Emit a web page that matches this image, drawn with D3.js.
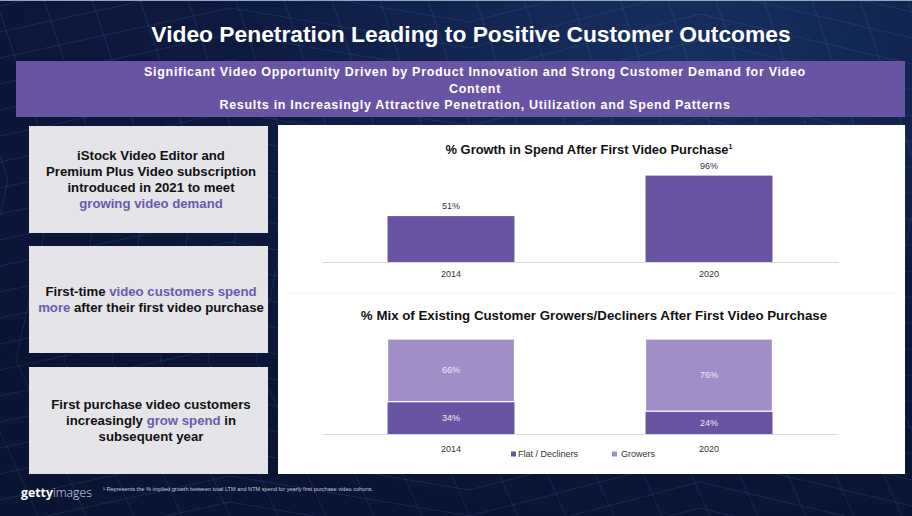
<!DOCTYPE html>
<html><head><meta charset="utf-8">
<script src="https://cdn.jsdelivr.net/npm/d3@7/dist/d3.min.js"></script>
<style>
html,body{margin:0;padding:0;background:#0c1839;}
svg{display:block;font-family:"Liberation Sans",Arial,sans-serif;}
</style></head><body>
<svg id="c" width="912" height="516"></svg>
<script>
// ---- data ----
const years = ["2014", "2020"];
const spendGrowth = [51, 96];
const flatDecliners = [34, 24];
const growers = [66, 76];
const seriesNames = ["Flat / Decliners", "Growers"];
const title = "Video Penetration Leading to Positive Customer Outcomes";
const bannerLines = ["Significant Video Opportunity Driven by Product Innovation and Strong Customer Demand for Video", "Content", "Results in Increasingly Attractive Penetration, Utilization and Spend Patterns"];
const chart1Title = "% Growth in Spend After First Video Purchase";
const chart2Title = "% Mix of Existing Customer Growers/Decliners After First Video Purchase";
const footnote = "Represents the % implied growth between total LTM and NTM spend for yearly first purchase video cohorts.";
// left boxes: lines made of [text, highlighted?] pieces
const boxes = [
  [[["iStock Video Editor and",0]],[["Premium Plus Video subscription",0]],[["introduced in 2021 to meet",0]],[["growing video demand",1]]],
  [[["First-time ",0],["video customers spend",1]],[["more",1],[" after their first video purchase",0]]],
  [[["First purchase video customers",0]],[["increasingly ",0],["grow spend",1],[" in",0]],[["subsequent year",0]]]
];

const svg = d3.select("#c");
const W = 912, H = 516;
const purple = "#6953a3", lilac = "#a28ec6", hiText = "#6b5aad";

// background
const defs = svg.append("defs");
const rg = defs.append("radialGradient").attr("id","bg").attr("cx","75%").attr("cy","10%").attr("r","90%");
rg.append("stop").attr("offset","0%").attr("stop-color","#173060");
rg.append("stop").attr("offset","55%").attr("stop-color","#0d1a3f");
rg.append("stop").attr("offset","100%").attr("stop-color","#0a1433");
svg.append("rect").attr("width",W).attr("height",H).attr("fill","url(#bg)");
// faint decorative network lines
const bgLines = [];
for (let i = 0; i < 26; i++) {
  const y0 = -60 + i * 26;
  bgLines.push([[0, y0 + 40], [230, y0 - 10], [470, y0 + 30], [700, y0 - 30], [912, y0 + 20]]);
}
for (let i = 0; i < 22; i++) {
  const x0 = -100 + i * 48;
  bgLines.push([[x0, 0], [x0 + 60, 180], [x0 + 20, 360], [x0 + 90, 516]]);
}
svg.append("g").selectAll("path").data(bgLines).join("path")
  .attr("d", d3.line().curve(d3.curveLinear))
  .attr("fill","none").attr("stroke","#5a88c2").attr("stroke-opacity",0.25).attr("stroke-width",0.7);
svg.append("line").attr("x1",0).attr("x2",W).attr("y1",0.5).attr("y2",0.5).attr("stroke","#9aa3b8").attr("stroke-width",1);

// title
svg.append("text").attr("x",471).attr("y",42).attr("text-anchor","middle")
  .attr("fill","#fff").attr("font-weight","bold").attr("font-size",22.8).text(title);

// banner
svg.append("rect").attr("x",16).attr("y",61).attr("width",889).attr("height",56).attr("fill",purple);
svg.append("g").selectAll("text").data(bannerLines).join("text")
  .attr("x",475).attr("y",(d,i)=>76 + i*16.5).attr("text-anchor","middle")
  .attr("fill","#fff").attr("font-weight","bold").attr("font-size",12.5).attr("letter-spacing",0.7)
  .text(d=>d);

// left boxes
const boxTops = [126, 246, 367];
boxes.forEach((lines, bi) => {
  const top = boxTops[bi], h = 107;
  svg.append("rect").attr("x",29).attr("y",top).attr("width",239).attr("height",h).attr("fill","#e4e4e9");
  const lh = 16;
  const cy = top + h/2 + 4.5 - (lines.length - 1) * lh / 2;
  lines.forEach((pieces, li) => {
    const t = svg.append("text").attr("x",151).attr("y",cy + li*lh).attr("text-anchor","middle")
      .attr("font-weight","bold").attr("font-size",13.2);
    pieces.forEach(p => t.append("tspan").attr("fill", p[1] ? hiText : "#111").text(p[0]));
  });
});

// right panel
svg.append("rect").attr("x",278).attr("y",125).attr("width",627).attr("height",349).attr("fill","#fff");

const x = d3.scaleBand().domain(years).range([322, 838]).paddingInner(0.508).paddingOuter(0.254);

// chart 1
const t1 = svg.append("text").attr("x",589).attr("y",154).attr("text-anchor","middle")
  .attr("font-weight","bold").attr("font-size",12.9).attr("fill","#111").text(chart1Title);
t1.append("tspan").attr("font-size",7).attr("dy",-5).text("1");
const y1 = d3.scaleLinear().domain([0, 100]).range([262, 172]);
const g1 = svg.append("g");
g1.selectAll("rect").data(years).join("rect")
  .attr("x", d=>x(d)).attr("width", x.bandwidth())
  .attr("y", (d,i)=>y1(spendGrowth[i])).attr("height",(d,i)=>y1(0)-y1(spendGrowth[i]))
  .attr("fill", purple);
g1.selectAll("text.v").data(years).join("text").attr("class","v")
  .attr("x", d=>x(d)+x.bandwidth()/2).attr("y",(d,i)=>y1(spendGrowth[i])-7)
  .attr("text-anchor","middle").attr("font-size",9).attr("fill","#333")
  .text((d,i)=>spendGrowth[i] + "%");
const ax1 = svg.append("g").attr("transform","translate(0,262)")
  .call(d3.axisBottom(x).tickSize(0).tickPadding(9));
ax1.select(".domain").attr("stroke","#d9d9d9");
ax1.selectAll("text").attr("font-size",9).attr("fill","#333").attr("font-family","Liberation Sans, Arial, sans-serif");

// separator
svg.append("line").attr("x1",290).attr("x2",895).attr("y1",293).attr("y2",293).attr("stroke","#f0f0f0");

// chart 2
svg.append("text").attr("x",594).attr("y",320).attr("text-anchor","middle")
  .attr("font-weight","bold").attr("font-size",13.3).attr("fill","#111").text(chart2Title);
const y2 = d3.scaleLinear().domain([0, 100]).range([434, 339]);
const stackData = years.map((yr, i) => ({year: yr, dec: flatDecliners[i], gro: growers[i]}));
const stack = d3.stack().keys(["dec","gro"])(stackData);
const colors = [purple, lilac];
const g2 = svg.append("g");
stack.forEach((layer, li) => {
  g2.append("g").selectAll("rect").data(layer).join("rect")
    .attr("x", d=>x(d.data.year)).attr("width", x.bandwidth())
    .attr("y", d=>y2(d[1])).attr("height", d=>y2(d[0]) - y2(d[1]))
    .attr("fill", colors[li]).attr("stroke","#fff").attr("stroke-width",li===0?0:1.2);
  g2.append("g").selectAll("text").data(layer).join("text")
    .attr("x", d=>x(d.data.year)+x.bandwidth()/2).attr("y", d=>(y2(d[0])+y2(d[1]))/2 + 3)
    .attr("text-anchor","middle").attr("font-size",9).attr("fill","#eeeaf6")
    .text(d=>(d[1]-d[0]) + "%");
});
const ax2 = svg.append("g").attr("transform","translate(0,434)")
  .call(d3.axisBottom(x).tickSize(0).tickPadding(12));
ax2.select(".domain").attr("stroke","#d9d9d9");
ax2.selectAll("text").attr("font-size",9).attr("fill","#333").attr("font-family","Liberation Sans, Arial, sans-serif");

// legend
const legX = [511, 612];
const lg = svg.append("g").selectAll("g").data(seriesNames).join("g")
  .attr("transform",(d,i)=>`translate(${legX[i]},457)`);
lg.append("rect").attr("x",0).attr("y",-5.5).attr("width",5).attr("height",5).attr("fill",(d,i)=>colors[i]);
lg.append("text").attr("x",(d,i)=>i===0?7:9).attr("y",0).attr("font-size",9).attr("fill","#333").text(d=>d);

// footer
const logo = svg.append("text").attr("x",21).attr("y",497).attr("fill","#fff").attr("font-size",12.3);
logo.append("tspan").attr("font-weight","bold").attr("font-family","Open Sans, Liberation Sans, sans-serif").text("getty");
logo.append("tspan").attr("font-weight",300).attr("font-family","Open Sans, Liberation Sans, sans-serif").attr("fill","#dcdde6").text("images");
svg.append("text").attr("x",103).attr("y",491).attr("fill","#c9ccd6").attr("font-size",5.6)
  .text("¹  " + footnote);
</script>
</body></html>
